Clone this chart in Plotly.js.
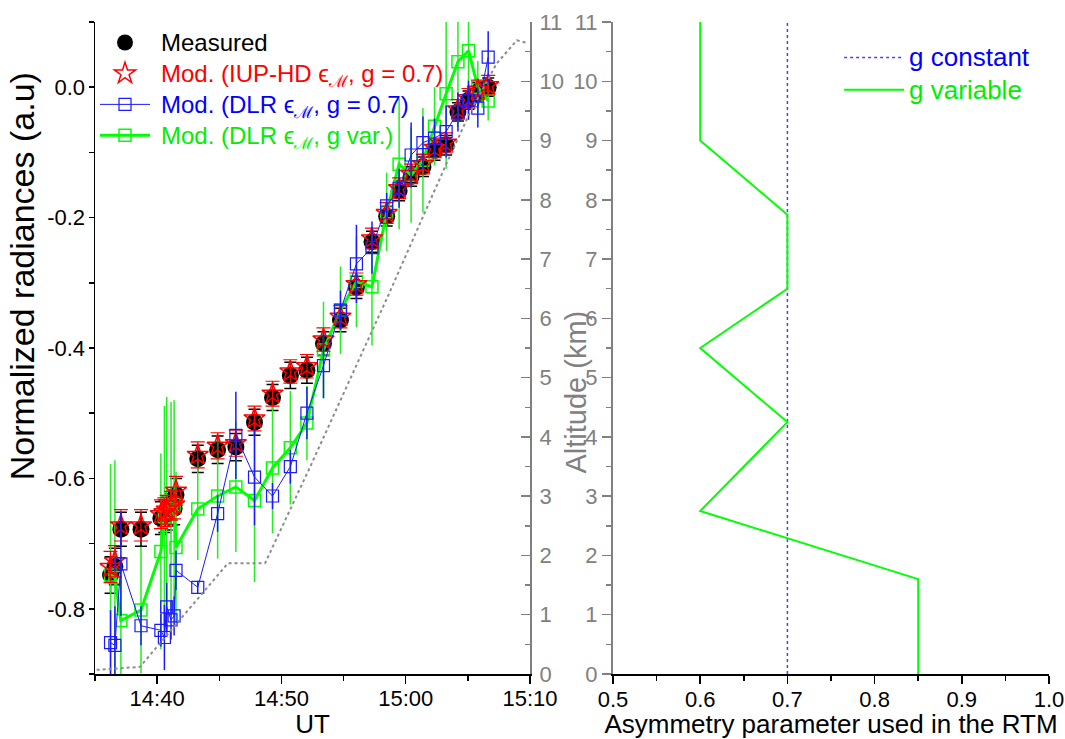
<!DOCTYPE html>
<html>
<head>
<meta charset="utf-8">
<script src="https://cdn.plot.ly/plotly-3.0.1.min.js"></script>
<style>html,body{margin:0;padding:0;background:#fff;}#chart{width:1065px;height:739px;}</style>
</head>
<body>
<div id="chart"></div>
<script>
// ---- Left panel: time series (UT) ----
const utTimes = ['14:36:15','14:36:36','14:37:05','14:38:42','14:40:18','14:40:35','14:40:46','14:41:07','14:41:22','14:41:31',
  '14:43:16','14:44:52','14:46:20','14:47:50','14:49:17','14:50:43','14:52:03','14:53:23','14:54:45','14:56:02',
  '14:57:17','14:58:28','14:59:28','15:00:26','15:01:23','15:02:19','15:03:15','15:04:12','15:05:03','15:05:48','15:06:38'];

const measured = [-0.748,-0.735,-0.678,-0.678,-0.661,-0.658,-0.654,-0.648,-0.646,-0.625,
  -0.570,-0.556,-0.552,-0.514,-0.476,-0.442,-0.434,-0.393,-0.357,-0.307,
  -0.237,-0.198,-0.159,-0.137,-0.122,-0.097,-0.089,-0.038,-0.020,-0.007,0.000];
const measuredErr = [0.028,0.028,0.026,0.026,0.025,0.025,0.025,0.025,0.025,0.025,
  0.021,0.021,0.021,0.020,0.020,0.020,0.020,0.018,0.018,0.017,
  0.016,0.015,0.015,0.015,0.015,0.015,0.015,0.014,0.014,0.014,0.014];

const modIUP = [-0.736,-0.727,-0.672,-0.672,-0.655,-0.652,-0.648,-0.642,-0.640,-0.619,
  -0.564,-0.550,-0.546,-0.508,-0.470,-0.436,-0.428,-0.387,-0.352,-0.302,
  -0.232,-0.193,-0.155,-0.133,-0.118,-0.093,-0.085,-0.034,-0.017,-0.004,0.003];
const modIUPErr = [0.024,0.024,0.024,0.024,0.022,0.022,0.022,0.022,0.022,0.022,
  0.020,0.020,0.020,0.019,0.019,0.018,0.018,0.018,0.017,0.017,
  0.016,0.016,0.016,0.015,0.015,0.015,0.015,0.015,0.015,0.015,0.015];

const modDLR = [-0.852,-0.856,-0.731,-0.826,-0.833,-0.844,-0.797,-0.817,-0.811,-0.741,
  -0.767,-0.654,-0.534,-0.598,-0.627,-0.582,-0.500,-0.427,-0.342,-0.271,
  -0.246,-0.182,-0.155,-0.104,-0.085,-0.078,-0.068,-0.038,-0.020,-0.032,0.046];
const modDLRErr = [0.05,0.06,0.08,0.03,0.025,0.05,0.037,0.03,0.03,0.03,
  0.01,0.028,0.067,0.074,0.02,0.026,0.04,0.05,0.03,0.06,
  0.04,0.02,0.03,0.05,0.04,0.03,0.04,0.03,0.03,0.03,0.04];

const modDLRgVar = [-0.748,-0.752,-0.818,-0.802,-0.712,-0.659,-0.651,-0.646,-0.640,-0.706,
  -0.647,-0.627,-0.613,-0.634,-0.584,-0.553,-0.515,-0.403,-0.342,-0.298,
  -0.306,-0.191,-0.118,-0.135,-0.112,-0.060,-0.010,0.039,0.056,0.000,-0.021];
const modDLRgVarErr = [0.17,0.18,0.10,0.097,0.15,0.17,0.176,0.163,0.16,0.116,
  0.078,0.096,0.10,0.125,0.10,0.087,0.057,0.074,0.067,0.07,
  0.09,0.06,0.10,0.073,0.08,0.06,0.115,0.10,0.10,0.04,0.03];

// aircraft altitude (right axis of left panel)
const altTimes = ['14:35:08','14:38:37','14:45:42','14:48:41','14:52:18','14:58:36','15:03:10','15:05:10','15:07:19','15:08:56','15:09:44'];
const altKm = [0.07,0.12,1.87,1.87,3.49,6.39,8.56,9.47,10.30,10.69,10.65];

// ---- Right panel: asymmetry parameter profile ----
const gVarValues = [0.6,0.6,0.7,0.7,0.6,0.7,0.6,0.85,0.85];
const gVarAlt = [11,9,7.75,6.5,5.5,4.25,2.75,1.6,0];
const gConstValues = [0.7,0.7];
const gConstAlt = [0,11];

const xTickLabelsLeft = ['14:40','14:50','15:00','15:10'];
const yTickValsLeft = [-0.8,-0.6,-0.4,-0.2,0.0];
const yTickLabelsLeft = ['-0.8','-0.6','-0.4','-0.2','0.0'];

const day = '2000-01-01 ';
const tx = utTimes.map(s => day + s);
const ta = altTimes.map(s => day + s);

const FONT = 'Liberation Sans, Arial, sans-serif';
const GRAY = '#808080';
const SP = '\u00a0';
const lg = (color, txt, px) => SP + '<span style="font-size:' + px + 'px;color:' + color + '">' + txt + '</span>';

const traces = [
  {x: ta, y: altKm, xaxis:'x', yaxis:'y2', mode:'lines', line:{color:'#8c8c8c', dash:'dot', width:2},
   showlegend:false, hoverinfo:'skip'},
  {x: tx, y: measured, xaxis:'x', yaxis:'y', mode:'markers', name:lg('#000000','Measured',24), legendrank:1,
   marker:{symbol:'circle', size:17, color:'#000'},
   error_y:{type:'data', array:measuredErr, color:'#000', thickness:1.5, width:6}},
  {x: tx, y: modDLRgVar, xaxis:'x', yaxis:'y', mode:'lines+markers', legendrank:4,
   name:lg('#00ee00','Mod. (DLR ϵ<sub>ℳ</sub>, g var.)',24),
   line:{color:'#00ff00', width:3},
   marker:{symbol:'square-open', size:12, color:'#00ff00', line:{width:1.5}},
   error_y:{type:'data', array:modDLRgVarErr, color:'#22ee22', thickness:1.5, width:0}},
  {x: tx, y: modIUP, xaxis:'x', yaxis:'y', mode:'markers', legendrank:2,
   name:lg('#ff0000','Mod. (IUP-HD ϵ<sub>ℳ</sub>, g = 0.7)',24),
   marker:{symbol:'star-open', size:16, color:'#ff0000', line:{width:1.5}},
   error_y:{type:'data', array:modIUPErr, color:'#ff0000', thickness:1.2, width:7}},
  {x: tx, y: modDLR, xaxis:'x', yaxis:'y', mode:'lines+markers', legendrank:3,
   name:lg('#0000ff','Mod. (DLR ϵ<sub>ℳ</sub>, g = 0.7)',24),
   line:{color:'#1a1aff', width:1},
   marker:{symbol:'square-open', size:12, color:'#1a1aff', line:{width:1.2}},
   error_y:{type:'data', array:modDLRErr, color:'#1a1aff', thickness:1.5, width:0}},
  {x: gConstValues, y: gConstAlt, xaxis:'x3', yaxis:'y3', mode:'lines', legend:'legend2',
   name:lg('#0000ff','g constant',26).slice(1),
   line:{color:'#4444ff', width:1.5, dash:'dot'}},
  {x: gVarValues, y: gVarAlt, xaxis:'x3', yaxis:'y3', mode:'lines', legend:'legend2',
   name:lg('#00ee00','g variable',26).slice(1),
   line:{color:'#00ff00', width:2}}
];

const xRange = [day + '14:35:00', day + '15:10:00'];
const xTickVals = xTickLabelsLeft.map(s => day + s + ':00');

const layout = {
  width:1065, height:739,
  margin:{l:95, r:16, t:22, b:65},
  paper_bgcolor:'#fff', plot_bgcolor:'#fff',
  font:{family:FONT, size:22, color:'#000'},
  showlegend:true,
  xaxis:{domain:[0,0.456], type:'date', range:xRange, anchor:'y',
    tickvals:xTickVals, ticktext:xTickLabelsLeft,
    ticks:'outside', ticklen:8, tickwidth:1.5, tickcolor:'#000', ticklabelstandoff:-4,
    minor:{dtick:300000, tick0:day+'14:35:00', ticks:'outside', ticklen:5, tickwidth:1.5, tickcolor:'#000'},
    showline:true, linecolor:'#000', linewidth:1.5, showgrid:false, zeroline:false,
    title:{text:'UT', font:{size:26}, standoff:0}},
  xaxis2:{overlaying:'x', side:'top', anchor:'y', type:'date', range:xRange,
    tickvals:xTickVals, ticks:'inside', ticklen:8, tickwidth:1.5, tickcolor:'#000', showticklabels:false,
    minor:{dtick:300000, tick0:day+'14:35:00', ticks:'inside', ticklen:5, tickwidth:1.5, tickcolor:'#000'},
    showline:true, linecolor:'#000', linewidth:1.5, showgrid:false, zeroline:false},
  yaxis:{domain:[0,1], anchor:'x', range:[-0.9,0.1], tickvals:yTickValsLeft, ticktext:yTickLabelsLeft,
    ticks:'outside', ticklen:5, tickwidth:1.5, tickcolor:'#000', ticklabelstandoff:-1,
    minor:{dtick:0.1, ticks:'outside', ticklen:5, tickwidth:1.5, tickcolor:'#000'},
    showline:true, linecolor:'#000', linewidth:1.5, showgrid:false, zeroline:false},
  yaxis2:{overlaying:'y', side:'right', anchor:'x', range:[0,11], dtick:1,
    ticks:'inside', ticklen:9, tickwidth:1.5, tickcolor:GRAY,
    minor:{dtick:0.5, ticks:'inside', ticklen:5, tickwidth:1.5, tickcolor:GRAY},
    tickfont:{color:GRAY, size:22}, ticklabelstandoff:3,
    showline:true, linecolor:GRAY, linewidth:2, showgrid:false, zeroline:false},
  xaxis3:{domain:[0.543,1], anchor:'y3', range:[0.5,1.0], dtick:0.1, tickformat:'.1f',
    ticks:'outside', ticklen:8, tickwidth:1.5, tickcolor:'#000', ticklabelstandoff:-3,
    minor:{dtick:0.05, ticks:'outside', ticklen:5, tickwidth:1.5, tickcolor:'#000'},
    showline:true, linecolor:'#000', linewidth:1.5, showgrid:false, zeroline:false,
    title:{text:'Asymmetry parameter used in the RTM', font:{size:26}, standoff:0}},
  xaxis4:{overlaying:'x3', side:'top', anchor:'y3', range:[0.5,1.0], dtick:0.1,
    ticks:'inside', ticklen:8, tickwidth:1.5, tickcolor:'#000', showticklabels:false,
    minor:{dtick:0.05, ticks:'inside', ticklen:5, tickwidth:1.5, tickcolor:'#000'},
    showline:true, linecolor:'#000', linewidth:1.5, showgrid:false, zeroline:false},
  yaxis3:{domain:[0,1], anchor:'x3', range:[0,11], dtick:1,
    ticks:'outside', ticklen:9, tickwidth:1.5, tickcolor:GRAY,
    minor:{dtick:0.5, ticks:'outside', ticklen:5, tickwidth:1.5, tickcolor:GRAY},
    tickfont:{color:GRAY, size:22},
    showline:true, linecolor:GRAY, linewidth:2, showgrid:false, zeroline:false},
  yaxis4:{overlaying:'y3', side:'right', anchor:'x3', range:[0,11], dtick:1,
    ticks:'inside', ticklen:9, tickwidth:1.5, tickcolor:'#000', showticklabels:false,
    minor:{dtick:0.5, ticks:'inside', ticklen:5, tickwidth:1.5, tickcolor:'#000'},
    showline:true, linecolor:'#000', linewidth:1.5, showgrid:false, zeroline:false},
  legend:{x:0.0, y:1.0, xanchor:'left', yanchor:'top', bgcolor:'rgba(0,0,0,0)',
    font:{family:FONT, size:21.5, color:'#000'}, itemwidth:50, tracegroupgap:0},
  legend2:{x:0.78, y:0.978, xanchor:'left', yanchor:'top', bgcolor:'rgba(0,0,0,0)',
    font:{family:FONT, size:22.5, color:'#000'}, itemwidth:60, tracegroupgap:0},
  annotations:[
    {text:'Normalized radiances (a.u)', xref:'paper', yref:'paper', x:-0.0765, y:0.61,
     xanchor:'center', yanchor:'middle',
     textangle:-90, showarrow:false, font:{family:FONT, size:34, color:'#000'}},
    {text:'Altitude (km)', xref:'paper', yref:'paper', x:0.504, y:0.433,
     xanchor:'center', yanchor:'middle',
     textangle:-90, showarrow:false, font:{family:FONT, size:29, color:GRAY}}]
};

Plotly.newPlot('chart', traces, layout, {staticPlot:true, displayModeBar:false});
</script>
</body>
</html>
